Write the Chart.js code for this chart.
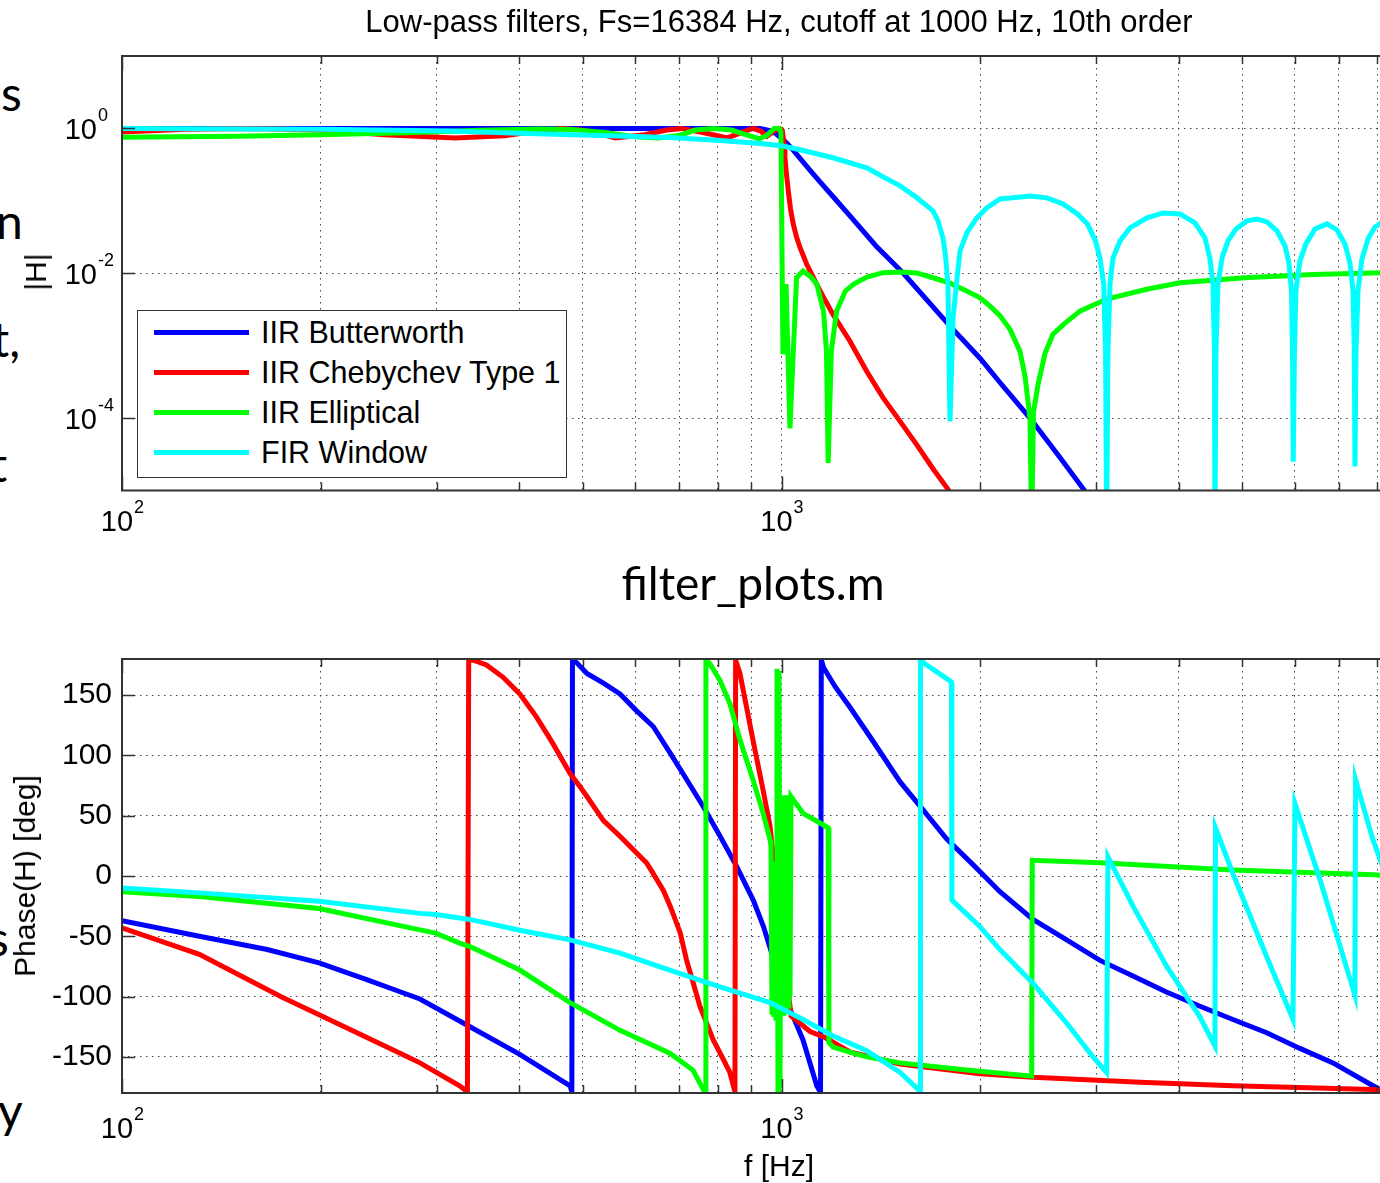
<!DOCTYPE html>
<html>
<head>
<meta charset="utf-8">
<title>filter_plots.m</title>
<script src="https://cdn.jsdelivr.net/npm/chart.js@4.4.1/dist/chart.umd.min.js"></script>
<style>
  html, body { margin: 0; padding: 0; background: #fff; }
  body { position: relative; width: 1380px; height: 1183px; overflow: hidden;
         font-family: "Liberation Sans", Arial, Helvetica, sans-serif; color: #000; }
  canvas { position: absolute; left: 0; }
  #magChart { top: 0; }
  #phaseChart { top: 600px; }
  .txt { position: absolute; font-size: 30px; line-height: 30px; white-space: nowrap; }
  .vert { transform: translate(-50%, -50%) rotate(-90deg); }
  .slide { position: absolute; font-family: Lato, "Open Sans", sans-serif; font-size: 48px; line-height: 48px; white-space: nowrap; }
  #legend { position: absolute; left: 137px; top: 310px; width: 430px; height: 168px; box-sizing: border-box;
            border: 1.5px solid #333; background: #fff; }
  #legend .row { position: absolute; left: 0; width: 100%; height: 30px; }
  #legend .swatch { position: absolute; left: 16px; top: 12.5px; width: 95px; height: 5px; }
  #legend .name { position: absolute; left: 123px; top: 0; font-size: 30.5px; line-height: 30px; white-space: nowrap; }
</style>
</head>
<body>
<!-- ends of the slide's body text, cut by the left edge -->
<div class="slide" style="left:1px; top:69px">s</div>
<div class="slide" style="left:-4px; top:197px">n</div>
<div class="slide" style="left:-8px; top:315px">t,</div>
<div class="slide" style="left:-10px; top:440px">t</div>
<div class="slide" style="left:-12px; top:914px">s</div>
<div class="slide" style="left:-2px; top:1086px">y</div>

<canvas id="magChart" width="1460" height="560"></canvas>
<canvas id="phaseChart" width="1460" height="583"></canvas>

<div class="txt" style="left:279px; width:1000px; text-align:center; top:7px; font-size:31px">Low-pass filters, Fs=16384 Hz, cutoff at 1000 Hz, 10th order</div>
<div class="txt vert" style="left:36px; top:272px">|H|</div>
<div class="txt vert" style="left:25px; top:876px">Phase(H) [deg]</div>
<div class="txt" style="left:679px; width:200px; text-align:center; top:1151px">f [Hz]</div>
<div class="slide" style="left:553px; width:400px; text-align:center; top:560px; font-size:46px; line-height:46px">filter_plots.m</div>

<div id="legend"></div>

<script>
// series names and colours, same order as the legend
const seriesNames = ['IIR Butterworth', 'IIR Chebychev Type 1', 'IIR Elliptical', 'FIR Window'];
const seriesColors = ['#0000ff', '#ff0000', '#00ff00', '#00ffff'];

// axis ticks
const freqTicks = [100, 200, 300, 400, 500, 600, 700, 800, 900, 1000, 2000, 3000, 4000, 5000, 6000, 7000, 8000, 9000, 10000];
const decadeTicks = [100, 1000, 10000];
const gainTicks = [1e-4, 1e-2, 1];
const phaseTicks = [-150, -100, -50, 0, 50, 100, 150];

// |H| (linear gain) against frequency in Hz
const butterMagFreq = [100, 400, 750, 928, 961, 981, 1000, 1019, 1037, 1056, 1078, 1105, 1144, 1206, 1270, 1391, 1530, 1801, 2000, 2144, 2381, 2644, 2885, 3100];
const butterMagGain = [1, 1, 1, 1, 0.929, 0.845, 0.732, 0.624, 0.524, 0.432, 0.346, 0.264, 0.183, 0.106, 0.0619, 0.0238, 0.010, 0.00186, 0.00067, 0.00031, 0.0001, 0.0000286, 0.0000098, 0.000004];

const chebyMagFreq = [100, 125, 156, 200, 250, 320, 380, 430, 465, 505, 560, 620, 670, 706, 760, 828, 870, 905, 930, 950, 972, 990, 1000, 1003, 1009, 1012, 1017, 1024, 1032, 1042, 1054, 1067, 1092, 1131, 1164, 1197, 1270, 1347, 1426, 1513, 1603, 1697, 1784, 1870];
const chebyMagGain = [0.89, 0.97, 1.0, 0.95, 0.82, 0.74, 0.79, 0.93, 1.0, 0.94, 0.74, 0.82, 0.95, 1.0, 0.88, 0.74, 0.88, 1.0, 0.92, 0.78, 0.9, 1.0, 0.97, 0.93, 0.614, 0.40, 0.244, 0.137, 0.0774, 0.0475, 0.0317, 0.0225, 0.0133, 0.0070, 0.00426, 0.0027, 0.00115, 0.00044, 0.00019, 0.00009, 0.000043, 0.00002, 0.0000107, 0.0000055];

const ellipMagFreq = [100, 150, 200, 270, 350, 430, 480, 540, 600, 650, 700, 740, 790, 840, 880, 925, 950, 975, 993, 998, 1005, 1016, 1030, 1054, 1078, 1105, 1131, 1158, 1170, 1177, 1190, 1212, 1250, 1287, 1347, 1426, 1513, 1603, 1697, 1801, 1909, 2000, 2071, 2144, 2220, 2299, 2340, 2381, 2395, 2410, 2449, 2509, 2580, 2691, 2835, 3112, 3579, 4020, 5040, 6396, 8192];
const ellipMagGain = [0.755, 0.78, 0.82, 0.87, 0.94, 0.985, 0.97, 0.88, 0.77, 0.74, 0.80, 0.95, 1.0, 0.95, 0.83, 0.72, 0.80, 1.0, 1.0, 0.9, 0.00076, 0.0071, 0.000072, 0.0087, 0.0107, 0.0091, 0.0071, 0.0030, 0.00084, 0.000024, 0.00084, 0.0030, 0.0057, 0.0071, 0.00886, 0.0102, 0.0104, 0.0101, 0.00867, 0.0073, 0.00567, 0.00458, 0.00352, 0.0026, 0.00169, 0.00084, 0.00038, 0.0001, 0.000003, 0.00012, 0.00029, 0.00078, 0.00144, 0.00205, 0.0030, 0.0044, 0.0060, 0.0074, 0.00867, 0.0096, 0.0102];

const firMagFreq = [100, 200, 314, 400, 531, 677, 807, 928, 1000, 1067, 1197, 1347, 1426, 1513, 1603, 1697, 1727, 1757, 1773, 1788, 1801, 1820, 1846, 1865, 1910, 1977, 2047, 2144, 2244, 2381, 2526, 2673, 2810, 2910, 2993, 3040, 3080, 3100, 3112, 3126, 3148, 3181, 3260, 3376, 3583, 3789, 4020, 4236, 4386, 4463, 4510, 4534, 4542, 4558, 4591, 4655, 4753, 4889, 5079, 5260, 5447, 5640, 5800, 5882, 5933, 5954, 5970, 5995, 6026, 6111, 6240, 6440, 6716, 6955, 7152, 7278, 7355, 7388, 7406, 7432, 7484, 7589, 7749, 7941, 8192];
const firMagGain = [1.0, 0.975, 0.92, 0.86, 0.80, 0.75, 0.68, 0.62, 0.576, 0.507, 0.393, 0.286, 0.2145, 0.161, 0.111, 0.0726, 0.053, 0.031, 0.0173, 0.0071, 0.00009, 0.00239, 0.00857, 0.0203, 0.036, 0.058, 0.0798, 0.106, 0.110, 0.117, 0.110, 0.0908, 0.066, 0.048, 0.0279, 0.0162, 0.0071, 0.00084, 0.000003, 0.00084, 0.0071, 0.0162, 0.0279, 0.0423, 0.0581, 0.068, 0.066, 0.0495, 0.0307, 0.0162, 0.0071, 0.00084, 0.000003, 0.00084, 0.0071, 0.0162, 0.0279, 0.0409, 0.0528, 0.0562, 0.0511, 0.0384, 0.0238, 0.0138, 0.0057, 0.00084, 0.000025, 0.00084, 0.0057, 0.0148, 0.0254, 0.0409, 0.048, 0.0396, 0.0254, 0.0138, 0.0057, 0.00084, 0.0000215, 0.00084, 0.0057, 0.0157, 0.0297, 0.0436, 0.052];

// phase in degrees, wrapped to +-180
const butterPhaseFreq = [100, 131, 166, 199, 235, 264, 283, 337, 401, 478, 481, 482, 489, 507, 537, 569, 603, 639, 678, 718, 762, 807, 855, 906, 939, 974, 1017, 1078, 1131, 1146, 1149, 1158, 1206, 1270, 1376, 1513, 1622, 1778, 1955, 2144, 2406, 2706, 3040, 3412, 3826, 4311, 4836, 5441, 6111, 6859, 7885, 8192];
const butterPhaseDeg = [-37, -50, -61, -72, -86, -96, -102, -125, -148, -174, -179, 179, 177, 168, 160, 151, 137, 124, 102, 80, 57, 33, 8, -20, -42, -70, -103, -136, -174, -179.5, 179.5, 173, 157, 140, 112, 78, 58, 31, 9, -13, -36, -53, -70, -83, -96, -108, -119, -130, -143, -155, -174, -179];

const chebyPhaseFreq = [100, 131, 174, 199, 264, 283, 325, 334, 335.5, 341, 357, 378, 401, 425, 450, 478, 495, 507, 537, 569, 603, 625, 639, 662, 678, 702, 718, 735, 752, 770, 788, 816, 835, 850, 852, 865, 905, 938, 961, 977, 1034, 1105, 1164, 1270, 1513, 2000, 2406, 3500, 4836, 7885, 8192];
const chebyPhaseDeg = [-43, -65, -100, -115, -147, -155, -174, -179, 179, 179, 175, 165, 151, 132, 110, 85, 74, 66, 46, 33, 19, 10.5, 2, -12, -25, -47, -70, -89, -108, -122, -136, -152, -163, -179, 179, 168, 113, 71, 41, 3, -116, -129, -134, -146, -156, -164, -167, -171, -174, -177, -178];

const ellipPhaseFreq = [100, 131, 199, 283, 299, 325, 337, 401, 478, 569, 677, 734, 761, 766, 768, 779, 807, 835, 865, 905, 938, 961, 964, 967.4, 970.8, 974.2, 977.6, 981, 984.4, 987.9, 991.3, 994.8, 998.3, 1001.7, 1005.2, 1008.8, 1012.3, 1015.8, 1019.4, 1023, 1026.5, 1030.1, 1033.7, 1078, 1144, 1177, 1180, 1197, 1284, 1347, 1513, 1909, 2000, 2395, 2400, 3040, 4836, 7885, 8192];
const ellipPhaseDeg = [-13, -17, -27, -44.7, -47.4, -55.7, -58.5, -78, -105, -128, -147, -161, -177, -179.5, 179.5, 176, 162, 143, 113, 80, 52, 30, 24, -115, 12, -117, 5, -118, 172, -177, 170, -175, 60, -115, 67, -116, 67, -112, 67, -108, 66, -100, 66, 52, 44, 40, -138, -142, -147, -150, -155, -161, -162, -166, 13, 11, 5, 1, 0.5];

const firPhaseFreq = [100, 131, 199, 283, 299, 337, 401, 478, 569, 677, 807, 961, 1078, 1200, 1347, 1513, 1622, 1623.5, 1625, 1650, 1810, 1813, 2000, 2144, 2406, 2706, 2967, 3112, 3126, 3412, 3838, 4311, 4542, 4550, 4836, 5441, 5965, 6006, 6554, 7405, 7420, 7885, 8192];
const firPhaseDeg = [-10, -14, -21, -31, -32, -36, -45, -53, -64, -78, -92, -105, -119, -133, -145, -163, -178.5, -179.5, 179.5, 176, 161, -20, -42, -61, -89, -122, -150, -163, 16, -25, -75, -117, -141, 40, 2, -67, -119, 60, -3, -99, 80, 30, 5];

const labelFont = '"Liberation Sans", Arial, Helvetica, sans-serif';
Chart.defaults.font.family = labelFont;
Chart.defaults.color = '#000';

// legend box, drawn over the magnitude axes
const legendBox = document.getElementById('legend');
seriesNames.forEach((name, i) => {
  const row = document.createElement('div');
  row.className = 'row';
  row.style.top = (6 + 40 * i) + 'px';
  row.innerHTML = '<span class="swatch" style="background:' + seriesColors[i] + '"></span><span class="name">' + name + '</span>';
  legendBox.appendChild(row);
});

function series(freqs, vals, i) {
  return {
    label: seriesNames[i],
    data: freqs.map((f, k) => ({x: f, y: vals[k]})),
    borderColor: seriesColors[i],
    borderWidth: 5,
    pointRadius: 0,
    tension: 0,
    fill: false,
    clip: 0,
    order: 3 - i   // FIR on top, Butterworth at the bottom
  };
}

// "10" with a raised exponent
function drawPower(ctx, value, x, baseline, align) {
  const exp = String(Math.round(Math.log10(value)));
  ctx.font = '29px ' + labelFont;
  const baseW = ctx.measureText('10').width;
  ctx.font = '18px ' + labelFont;
  const expW = ctx.measureText(exp).width;
  const left = align === 'center' ? x - (baseW + expW) / 2 : x - baseW;
  ctx.textAlign = 'left';
  ctx.textBaseline = 'alphabetic';
  ctx.font = '29px ' + labelFont;
  ctx.fillText('10', left, baseline);
  ctx.font = '18px ' + labelFont;
  ctx.fillText(exp, left + baseW + 1, baseline - 18);
}

const powerLabels = {
  id: 'powerLabels',
  afterDraw(chart, args, opts) {
    const {ctx, chartArea, scales} = chart;
    ctx.save();
    ctx.fillStyle = '#000';
    decadeTicks.forEach(v => drawPower(ctx, v, scales.x.getPixelForValue(v), chartArea.bottom + opts.gap, 'center'));
    if (scales.y.type === 'logarithmic') {
      gainTicks.forEach(v => drawPower(ctx, v, chartArea.left - 25, scales.y.getPixelForValue(v) + 10.5, 'right'));
    }
    ctx.restore();
  }
};

// axes box with inward tick marks on every side
const frame = {
  id: 'frame',
  afterDatasetsDraw(chart) {
    const {ctx, chartArea: a, scales: {x, y}} = chart;
    ctx.save();
    ctx.strokeStyle = '#333';
    ctx.lineWidth = 1.5;
    ctx.beginPath();
    x.ticks.forEach(t => {
      const px = Math.round(x.getPixelForValue(t.value)) + 0.5;
      const len = decadeTicks.includes(t.value) ? 14 : 8;
      ctx.moveTo(px, a.bottom); ctx.lineTo(px, a.bottom - len);
      ctx.moveTo(px, a.top); ctx.lineTo(px, a.top + len);
    });
    y.ticks.forEach(t => {
      const py = Math.round(y.getPixelForValue(t.value)) + 0.5;
      ctx.moveTo(a.left, py); ctx.lineTo(a.left + 13, py);
      ctx.moveTo(a.right, py); ctx.lineTo(a.right - 13, py);
    });
    ctx.stroke();
    ctx.lineWidth = 2;
    ctx.strokeRect(a.left, a.top, a.right - a.left, a.bottom - a.top);
    ctx.restore();
  }
};

const gridStyle = {color: '#444', lineWidth: 1, drawTicks: false};
const dotted = {display: false, dash: [1.5, 4.5]};

function freqAxis(height) {
  return {
    type: 'logarithmic', min: 100, max: 10000,
    afterBuildTicks: s => { s.ticks = freqTicks.map(v => ({value: v})); },
    afterFit: s => { s.height = height; },
    ticks: {display: false},
    grid: gridStyle,
    border: dotted
  };
}

new Chart(document.getElementById('magChart'), {
  type: 'line',
  data: {
    datasets: [
      series(butterMagFreq, butterMagGain, 0),
      series(chebyMagFreq, chebyMagGain, 1),
      series(ellipMagFreq, ellipMagGain, 2),
      series(firMagFreq, firMagGain, 3)
    ]
  },
  options: {
    responsive: false, animation: false, devicePixelRatio: 1,
    layout: {padding: {left: 0, top: 56, right: 19, bottom: 0}},
    plugins: {legend: {display: false}, tooltip: {enabled: false}, powerLabels: {gap: 40}},
    scales: {
      x: freqAxis(69.5),
      y: {
        type: 'logarithmic', min: 1e-5, max: 10,
        afterBuildTicks: s => { s.ticks = gainTicks.map(v => ({value: v})); },
        afterFit: s => { s.width = 122; },
        ticks: {display: false},
        grid: gridStyle,
        border: dotted
      }
    }
  },
  plugins: [frame, powerLabels]
});

new Chart(document.getElementById('phaseChart'), {
  type: 'line',
  data: {
    datasets: [
      series(butterPhaseFreq, butterPhaseDeg, 0),
      series(chebyPhaseFreq, chebyPhaseDeg, 1),
      series(ellipPhaseFreq, ellipPhaseDeg, 2),
      series(firPhaseFreq, firPhaseDeg, 3)
    ]
  },
  options: {
    responsive: false, animation: false, devicePixelRatio: 1,
    layout: {padding: {left: 0, top: 59, right: 19, bottom: 0}},
    plugins: {legend: {display: false}, tooltip: {enabled: false}, powerLabels: {gap: 45}},
    scales: {
      x: freqAxis(90),
      y: {
        type: 'linear', min: -180, max: 180,
        afterBuildTicks: s => { s.ticks = phaseTicks.map(v => ({value: v})); },
        afterFit: s => { s.width = 122; },
        ticks: {font: {size: 30}, padding: 10, color: '#000'},
        grid: gridStyle,
        border: dotted
      }
    }
  },
  plugins: [frame, powerLabels]
});
</script>
</body>
</html>
